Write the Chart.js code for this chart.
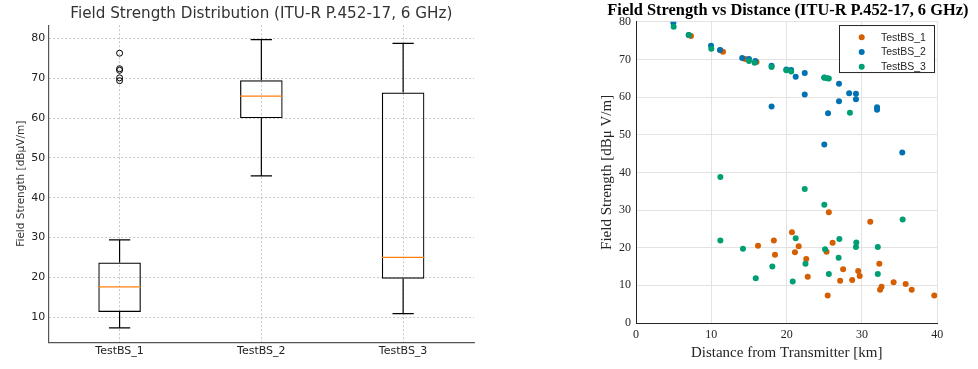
<!DOCTYPE html>
<html>
<head>
<meta charset="utf-8">
<script src="https://cdn.jsdelivr.net/npm/chart.js@4.4.1/dist/chart.umd.min.js"></script>
<style>
  body { margin: 0; background: #fff; }
  #boxWrap { position: absolute; left: 0; top: 0; }
  #scatterWrap { position: absolute; left: 590px; top: 0; }
</style>
</head>
<body>
<div id="boxWrap"><canvas id="boxChart" width="500" height="369"></canvas></div>
<div id="scatterWrap"><canvas id="scatterChart" width="388" height="369"></canvas></div>
<script>
// left: box plot stats per station
const stations = ["TestBS_1", "TestBS_2", "TestBS_3"];
const whiskerLow = [7.3, 45.5, 10.9];
const boxQ1 = [11.3, 60.0, 19.65];
const boxMedian = [17.6, 65.5, 25.0];
const boxQ3 = [23.7, 69.5, 66.4];
const whiskerHigh = [29.4, 79.7, 78.75];
const outlierStation = ["TestBS_1", "TestBS_1", "TestBS_1", "TestBS_1", "TestBS_1"];
const outlierValue = [76.3, 72.4, 72.0, 70.1, 69.4];
const boxTicks = [10, 20, 30, 40, 50, 60, 70, 80];

// right: field strength vs distance
const bs1Dist = [7.3, 11.2, 11.55, 14.5, 16.0, 25.6, 31.1, 20.7, 18.3, 26.1, 16.2, 21.6, 25.3, 21.1, 18.45, 22.6, 32.3, 27.5, 29.5, 29.7, 22.8, 27.1, 28.7, 34.2, 35.8, 32.6, 32.4, 36.6, 25.45, 39.6];
const bs1Field = [76.2, 72.4, 72.0, 70.1, 69.3, 29.4, 26.9, 24.1, 21.9, 21.3, 20.5, 20.4, 18.9, 18.8, 18.1, 17.0, 15.75, 14.3, 13.8, 12.5, 12.3, 11.2, 11.4, 10.8, 10.35, 9.6, 8.8, 8.8, 7.3, 7.3];
const bs2Dist = [4.96, 7.0, 9.96, 11.15, 14.1, 15.0, 15.84, 18.0, 18.0, 19.96, 20.6, 21.2, 22.4, 22.4, 25.0, 25.0, 25.5, 26.95, 26.95, 28.3, 29.2, 29.2, 32.0, 32.0, 35.35];
const bs2Field = [79.7, 76.5, 73.6, 72.5, 70.4, 70.1, 69.6, 68.3, 57.5, 67.3, 67.2, 65.4, 66.4, 60.7, 47.4, 65.2, 55.7, 63.5, 58.9, 61.0, 60.9, 59.4, 57.3, 56.6, 45.3];
const bs3Dist = [5.0, 7.0, 10.0, 15.0, 15.75, 18.0, 19.96, 20.6, 25.0, 25.4, 25.6, 28.4, 11.2, 22.4, 25.0, 35.4, 21.2, 11.2, 27.0, 29.25, 14.2, 29.2, 32.1, 25.1, 26.9, 22.5, 18.1, 25.6, 32.1, 15.9, 20.8];
const bs3Field = [78.7, 76.5, 72.8, 69.6, 69.1, 68.0, 67.1, 66.8, 65.1, 65.0, 64.9, 55.8, 38.8, 35.6, 31.4, 27.5, 22.5, 21.9, 22.3, 21.4, 19.7, 20.2, 20.2, 19.6, 17.3, 15.75, 15.0, 13.0, 13.0, 11.9, 11.0];
const distTicks = [0, 10, 20, 30, 40];
const fieldTicks = [0, 10, 20, 30, 40, 50, 60, 70, 80];

const stationColors = ["#D55E00", "#0072B2", "#009E73"];

function zip(xs, ys) {
  return xs.map((x, i) => ({ x: x, y: ys[i] }));
}

// whiskers, caps and medians on top of the floating bars
const boxParts = {
  id: "boxParts",
  afterDatasetsDraw(chart) {
    const ctx = chart.ctx;
    const xs = chart.scales.x, ys = chart.scales.y;
    const bars = chart.getDatasetMeta(0).data;
    ctx.save();
    stations.forEach((s, i) => {
      const cx = xs.getPixelForValue(i);
      const half = bars[i].width / 2;
      const cap = half / 2;
      ctx.strokeStyle = "#000";
      ctx.lineWidth = 1.2;
      ctx.beginPath();
      ctx.moveTo(cx, ys.getPixelForValue(boxQ3[i]));
      ctx.lineTo(cx, ys.getPixelForValue(whiskerHigh[i]));
      ctx.moveTo(cx, ys.getPixelForValue(boxQ1[i]));
      ctx.lineTo(cx, ys.getPixelForValue(whiskerLow[i]));
      ctx.moveTo(cx - cap, ys.getPixelForValue(whiskerHigh[i]));
      ctx.lineTo(cx + cap, ys.getPixelForValue(whiskerHigh[i]));
      ctx.moveTo(cx - cap, ys.getPixelForValue(whiskerLow[i]));
      ctx.lineTo(cx + cap, ys.getPixelForValue(whiskerLow[i]));
      ctx.stroke();
      ctx.strokeStyle = "#ff7f0e";
      ctx.beginPath();
      ctx.moveTo(cx - half, ys.getPixelForValue(boxMedian[i]));
      ctx.lineTo(cx + half, ys.getPixelForValue(boxMedian[i]));
      ctx.stroke();
    });
    ctx.restore();
  }
};

new Chart(document.getElementById("boxChart"), {
  type: "bar",
  data: {
    labels: stations,
    datasets: [
      {
        data: stations.map((s, i) => [boxQ1[i], boxQ3[i]]),
        backgroundColor: "rgba(0,0,0,0)",
        borderColor: "#000",
        borderWidth: 1.2,
        borderSkipped: false,
        categoryPercentage: 1,
        barPercentage: 0.3
      },
      {
        type: "line",
        showLine: false,
        data: zip(outlierStation, outlierValue),
        pointRadius: 3,
        pointBackgroundColor: "rgba(0,0,0,0)",
        pointBorderColor: "#000",
        pointBorderWidth: 1
      }
    ]
  },
  options: {
    responsive: false,
    animation: false,
    layout: { padding: { left: 0, right: 26, top: 0, bottom: 0 } },
    plugins: {
      legend: { display: false },
      tooltip: { enabled: false },
      title: {
        display: true,
        fullSize: false,
        text: "Field Strength Distribution (ITU-R P.452-17, 6 GHz)",
        color: "#333",
        font: { family: "DejaVu Sans", size: 15.2, weight: "normal", lineHeight: 1.2 },
        padding: { top: 5, bottom: 2 }
      }
    },
    scales: {
      x: {
        offset: true,
        grid: { offset: false, color: "#b8b8b8", lineWidth: 0.8, drawTicks: false },
        border: { color: "#555", width: 1.2, dash: [2, 2] },
        ticks: { color: "#222", padding: 2, font: { family: "DejaVu Sans", size: 11 } },
        afterFit(scale) { scale.height = 26.7; }
      },
      y: {
        min: 3.68,
        max: 83.32,
        afterBuildTicks(scale) { scale.ticks = boxTicks.map(v => ({ value: v })); },
        grid: { color: "#b8b8b8", lineWidth: 0.8, drawTicks: false },
        border: { color: "#555", width: 1.2, dash: [2, 2] },
        ticks: { color: "#222", padding: 3.5, font: { family: "DejaVu Sans", size: 11 } },
        title: {
          display: true,
          text: "Field Strength [dBµV/m]",
          color: "#333",
          font: { family: "DejaVu Sans", size: 10.5 },
          padding: { top: 15, bottom: 0 }
        },
        afterFit(scale) { scale.width = 48.7; }
      }
    }
  },
  plugins: [boxParts]
});

// legend box drawn inside the plot, top right
const insideLegend = {
  id: "insideLegend",
  afterDraw(chart) {
    const ctx = chart.ctx;
    const area = chart.chartArea;
    const w = 95, h = 47;
    const left = area.right - 3.3 - w, top = area.top + 3.3;
    ctx.save();
    ctx.fillStyle = "#fff";
    ctx.fillRect(left, top, w, h);
    ctx.strokeStyle = "#262626";
    ctx.lineWidth = 1;
    ctx.strokeRect(left + 0.5, top + 0.5, w, h);
    ctx.font = "10.5px 'Liberation Sans'";
    ctx.textBaseline = "middle";
    chart.data.datasets.forEach((ds, i) => {
      const y = top + 12.3 + i * 14.7;
      ctx.fillStyle = ds.backgroundColor;
      ctx.beginPath();
      ctx.arc(left + 22.7, y, 3, 0, Math.PI * 2);
      ctx.fill();
      ctx.fillStyle = "#262626";
      ctx.fillText(ds.label, left + 42, y + 0.5);
    });
    ctx.restore();
  }
};

const serif = "Liberation Serif";

new Chart(document.getElementById("scatterChart"), {
  type: "scatter",
  data: {
    datasets: [
      { label: "TestBS_1", data: zip(bs1Dist, bs1Field), backgroundColor: stationColors[0], borderColor: stationColors[0], order: 3 },
      { label: "TestBS_2", data: zip(bs2Dist, bs2Field), backgroundColor: stationColors[1], borderColor: stationColors[1], order: 2 },
      { label: "TestBS_3", data: zip(bs3Dist, bs3Field), backgroundColor: stationColors[2], borderColor: stationColors[2], order: 1 }
    ]
  },
  options: {
    responsive: false,
    animation: false,
    elements: { point: { radius: 3, borderWidth: 0 } },
    layout: { padding: { left: 7.7, right: 0, top: 0, bottom: 0 } },
    plugins: {
      legend: { display: false },
      tooltip: { enabled: false },
      title: {
        display: true,
        text: "Field Strength vs Distance (ITU-R P.452-17, 6 GHz)",
        color: "#000",
        font: { family: serif, size: 16.4, weight: "bold", lineHeight: 1.1 },
        padding: { top: 2, bottom: 1.7 }
      }
    },
    scales: {
      x: {
        type: "linear",
        min: 0,
        max: 40,
        afterBuildTicks(scale) { scale.ticks = distTicks.map(v => ({ value: v })); },
        grid: { color: "#e3e3e3", lineWidth: 1, drawTicks: false },
        border: { color: "#262626", width: 1 },
        ticks: { color: "#262626", padding: 4.8, font: { family: serif, size: 12 } },
        title: {
          display: true,
          text: "Distance from Transmitter [km]",
          color: "#262626",
          font: { family: serif, size: 15 },
          padding: { top: 0, bottom: 6.7 }
        },
        afterFit(scale) { scale.height = 46; }
      },
      y: {
        min: 0,
        max: 80,
        afterBuildTicks(scale) { scale.ticks = fieldTicks.map(v => ({ value: v })); },
        grid: { color: "#e3e3e3", lineWidth: 1, drawTicks: false },
        border: { color: "#262626", width: 1 },
        ticks: { color: "#262626", padding: 5, font: { family: serif, size: 12 } },
        title: {
          display: true,
          text: "Field Strength [dBμ V/m]",
          color: "#262626",
          font: { family: serif, size: 15 },
          padding: { top: 0, bottom: 0 }
        },
        afterFit(scale) { scale.width = 38.3; }
      },
      // empty right-hand axis: keeps the margin right of the plot
      ySpace: {
        position: "right",
        min: 0,
        max: 80,
        grid: { display: false },
        border: { display: false },
        ticks: { display: false },
        afterFit(scale) { scale.width = 40.7; }
      }
    }
  },
  plugins: [insideLegend]
});
</script>
</body>
</html>
